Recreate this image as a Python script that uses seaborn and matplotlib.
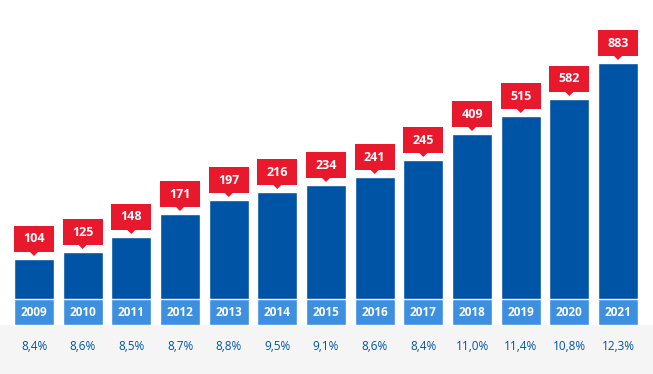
import seaborn as sns
import matplotlib.pyplot as plt
from matplotlib.patches import Rectangle, Polygon
import pandas as pd

years = ['2009', '2010', '2011', '2012', '2013', '2014', '2015',
         '2016', '2017', '2018', '2019', '2020', '2021']
values = [104, 125, 148, 171, 197, 216, 234, 241, 245, 409, 515, 582, 883]
# drawn bar heights (stylised, not proportional to values)
bar_heights = [66, 73, 88, 111, 125, 133, 140, 148, 165, 191, 209, 226, 262]
shares = ['8,4%', '8,6%', '8,5%', '8,7%', '8,8%', '9,5%', '9,1%',
          '8,6%', '8,4%', '11,0%', '11,4%', '10,8%', '12,3%']

dark_blue = '#0054a6'
light_blue = '#3d8fe0'
red = '#e8192c'

sns.set_style('white')
plt.rcParams['font.family'] = ['Open Sans', 'DejaVu Sans']

df = pd.DataFrame({'year': years, 'h': bar_heights})

fig = plt.figure(figsize=(6.53, 3.74), dpi=100)
ax = fig.add_axes([0, 0, 1, 1])

band = 26
width = 0.82
pitch = 48.67

ax.axhspan(-49, 0, color='#f5f5f5', zorder=0, lw=0)

sns.barplot(data=df, x='year', y='h', color=dark_blue, width=width,
            saturation=1, ax=ax, zorder=2)
sns.barplot(data=df.assign(h=band), x='year', y='h', color=light_blue,
            width=width, saturation=1, ax=ax, zorder=3)

for i, (yr, v, h, s) in enumerate(zip(years, values, bar_heights, shares)):
    ax.text(i, band / 2, yr, color='white', ha='center', va='center',
            fontsize=8.5, fontweight='bold', zorder=4)
    ax.text(i, -21, s, color=dark_blue, ha='center', va='center', fontsize=8.5)
    # red callout
    ax.add_patch(Rectangle((i - width / 2, h + 7), width, 26, color=red,
                           lw=0, zorder=4))
    tw = 4.5 / pitch
    ax.add_patch(Polygon([(i - tw, h + 7.5), (i + tw, h + 7.5), (i, h + 3)],
                         color=red, lw=0, zorder=4))
    ax.text(i, h + 20, str(v), color='white', ha='center', va='center',
            fontsize=9, fontweight='bold', zorder=5)

ax.set_xlim(-34 / pitch, (653 - 34) / pitch)
ax.set_ylim(-49, 325)
ax.axis('off')

plt.savefig('out.png', dpi=100)
plt.close()
